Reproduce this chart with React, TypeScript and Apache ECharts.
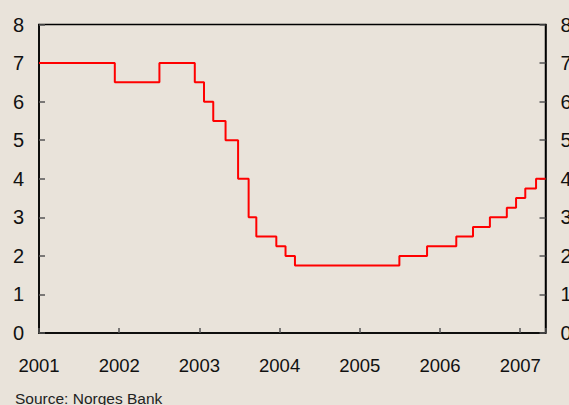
import React, { useEffect, useRef } from "react";
import * as echarts from "echarts";

// Norges Bank key policy rate: date of change and new rate (per cent)
const changeDates: string[] = [
  "2001-01-01", "2001-12-12", "2002-07-03", "2002-12-11", "2003-01-22",
  "2003-03-05", "2003-04-30", "2003-06-26", "2003-08-13", "2003-09-17",
  "2003-12-17", "2004-01-28", "2004-03-11", "2005-06-30", "2005-11-03",
  "2006-03-16", "2006-05-31", "2006-08-16", "2006-11-01", "2006-12-13",
  "2007-01-24", "2007-03-14", "2007-04-26",
];
const rates: number[] = [
  7, 6.5, 7, 6.5, 6,
  5.5, 5, 4, 3, 2.5,
  2.25, 2, 1.75, 2, 2.25,
  2.5, 2.75, 3, 3.25, 3.5,
  3.75, 4, 4,
];
const xStart = "2001-01-01";
const xEnd = "2007-04-26";
const yTicks: number[] = [0, 1, 2, 3, 4, 5, 6, 7, 8];
const sourceText = "Source: Norges Bank";

function toDecimalYear(d: string): number {
  const [y, m, day] = d.split("-").map(Number);
  const start = Date.UTC(y, 0, 1);
  const end = Date.UTC(y + 1, 0, 1);
  const t = Date.UTC(y, m - 1, day);
  return y + (t - start) / (end - start);
}

const BG = "#e9e3da";
const FONT = "'Liberation Sans', Arial, sans-serif";

export default function App() {
  const ref = useRef<HTMLDivElement>(null);
  useEffect(() => {
    if (!ref.current) return;
    const chart = echarts.init(ref.current, undefined, { renderer: "svg" });
    const data = changeDates.map((d, i) => [toDecimalYear(d), rates[i]]);
    const yAxisCommon = {
      type: "value" as const,
      min: yTicks[0],
      max: yTicks[yTicks.length - 1],
      interval: 1,
      splitLine: { show: false },
      axisLine: { show: true, lineStyle: { color: "#000", width: 1.5 } },
      axisTick: { show: true, inside: true, length: 6, lineStyle: { color: "#555", width: 1.5 } },
      axisLabel: { fontSize: 20, color: "#111", fontFamily: FONT, margin: 15 },
    };
    chart.setOption({
      animation: false,
      backgroundColor: BG,
      grid: {
        left: 39,
        right: 23.5,
        top: 24.5,
        bottom: 72,
        outerBoundsMode: "none",
        containLabel: false,
        show: true,
        borderColor: "#000",
        borderWidth: 1.5,
        backgroundColor: "transparent",
      },
      xAxis: {
        type: "value",
        min: toDecimalYear(xStart),
        max: toDecimalYear(xEnd),
        interval: 1,
        splitLine: { show: false },
        axisLine: { show: true, lineStyle: { color: "#000", width: 1.5 } },
        axisTick: { show: true, inside: true, length: 5, lineStyle: { color: "#555", width: 1.5 } },
        axisLabel: {
          fontSize: 18.5,
          color: "#111",
          fontFamily: FONT,
          margin: 23,
          formatter: (v: number) => (Math.abs(v - Math.round(v)) < 1e-6 ? String(Math.round(v)) : ""),
        },
      },
      yAxis: [
        { ...yAxisCommon, position: "left" },
        { ...yAxisCommon, position: "right" },
      ],
      series: [
        {
          type: "line",
          step: "end",
          data,
          yAxisIndex: 0,
          symbol: "none",
          lineStyle: { color: "#ff0000", width: 2 },
        },
      ],
      graphic: [
        {
          type: "text",
          left: 15,
          top: 390,
          style: { text: sourceText, fontSize: 15.5, fill: "#222", fontFamily: FONT },
        },
      ],
    });
    return () => chart.dispose();
  }, []);
  return (
    <div
      ref={ref}
      style={{ position: "fixed", left: 0, top: 0, width: 569, height: 405, background: BG }}
    />
  );
}
